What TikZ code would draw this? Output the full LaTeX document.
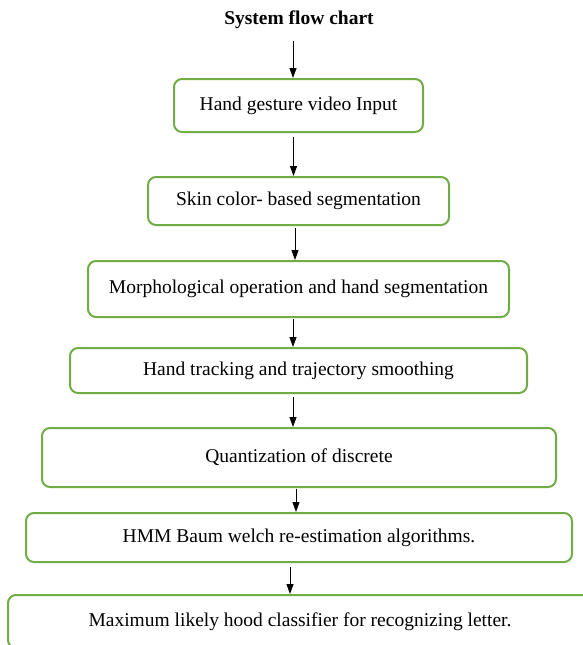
\documentclass[tikz,border=0pt]{standalone}
\usepackage{fontspec}
\setmainfont{Liberation Serif}
\usetikzlibrary{arrows.meta}
\definecolor{boxgreen}{RGB}{112,173,71}
\begin{document}
\begin{tikzpicture}[x=1pt,y=-1pt,
  stepbox/.style={draw=boxgreen, line width=2pt, rounded corners=8pt, inner sep=0pt,
    align=center, font=\fontsize{19.5}{23}\selectfont},
  arr/.style={line width=1pt, -{Triangle[width=7pt,length=10pt]}},
  titlestyle/.style={font=\fontsize{19.5}{23}\selectfont\bfseries, inner sep=0pt}]
\useasboundingbox (0,0) rectangle (583,645);
\clip (0,0) rectangle (583,645);
\node[titlestyle] (title) at (299,20) {System flow chart};
\node[stepbox, minimum width=249pt, minimum height=53pt] (b1) at (298.5,105.5) {Hand gesture video Input};
\node[stepbox, minimum width=301pt, minimum height=48pt] (b2) at (298.5,201) {Skin color- based segmentation};
\node[stepbox, minimum width=421pt, minimum height=56pt] (b3) at (298.5,289) {Morphological operation and hand segmentation};
\node[stepbox, minimum width=457pt, minimum height=45pt] (b4) at (298.5,370.5) {Hand tracking and trajectory smoothing};
\node[stepbox, minimum width=514pt, minimum height=59pt] (b5) at (299,457.5) {Quantization of discrete};
\node[stepbox, minimum width=546pt, minimum height=49pt] (b6) at (299,537.5) {HMM Baum welch re-estimation algorithms.};
\node[stepbox, minimum width=584pt, minimum height=53pt] (b7) at (300,621.5) {Maximum likely hood classifier for recognizing letter.};
\draw[arr] ([xshift=-6pt,yshift=-12pt]title.south) -- ([xshift=-5.5pt]b1.north);
\draw[arr] ([xshift=-5pt,yshift=-4pt]b1.south) -- ([xshift=-5pt]b2.north);
\draw[arr] ([xshift=-3.5pt,yshift=-2pt]b2.south) -- ([xshift=-3.5pt]b3.north);
\draw[arr] ([xshift=-5.5pt,yshift=-1pt]b3.south) -- ([xshift=-5.5pt]b4.north);
\draw[arr] ([xshift=-5.5pt,yshift=-3pt]b4.south) -- ([xshift=-6pt]b5.north);
\draw[arr] ([xshift=-3pt,yshift=-1pt]b5.south) -- ([xshift=-3pt]b6.north);
\draw[arr] ([xshift=-9pt,yshift=-4pt]b6.south) -- ([xshift=-10pt]b7.north);
\end{tikzpicture}
\end{document}
